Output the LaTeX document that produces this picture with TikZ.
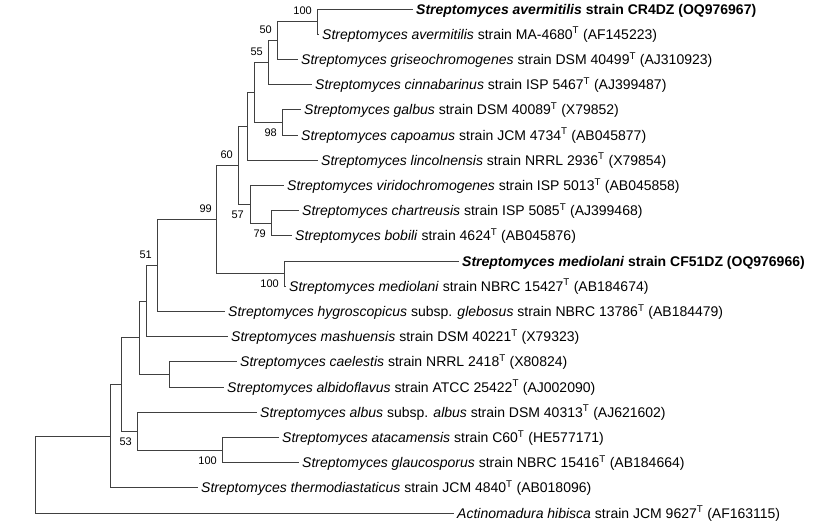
\documentclass[tikz,border=0pt]{standalone}
\usepackage{fontspec}
\setmainfont{Liberation Sans}
\usetikzlibrary{calc}
\begin{document}
\begin{tikzpicture}[x=1pt,y=-1pt,
  branch/.style={draw=black!75, line width=0.9pt},
  leaf/.style={anchor=west, inner xsep=3pt, inner ysep=0pt, text height=10pt, text depth=0pt, font=\fontsize{14}{16}\selectfont},
  bs/.style={anchor=east, inner sep=0pt, font=\fontsize{11}{12}\selectfont}
]
\fill[white] (0,0) rectangle (818,525);
\useasboundingbox (0,0) rectangle (818,525);

% leaves
\node[leaf] (T1)  at (413,9)     {\textbf{\textit{Streptomyces avermitilis} strain CR4DZ (OQ976967)}};
\node[leaf] (T2)  at (319,34.2)  {\textit{Streptomyces avermitilis} strain MA-4680\textsuperscript{T} (AF145223)};
\node[leaf] (T3)  at (298,59.4)  {\textit{Streptomyces griseochromogenes} strain DSM 40499\textsuperscript{T} (AJ310923)};
\node[leaf] (T4)  at (312,84.6)  {\textit{Streptomyces cinnabarinus} strain ISP 5467\textsuperscript{T} (AJ399487)};
\node[leaf] (T5)  at (301,109.8) {\textit{Streptomyces galbus} strain DSM 40089\textsuperscript{T} (X79852)};
\node[leaf] (T6)  at (298,135)   {\textit{Streptomyces capoamus} strain JCM 4734\textsuperscript{T} (AB045877)};
\node[leaf] (T7)  at (318,160.2) {\textit{Streptomyces lincolnensis} strain NRRL 2936\textsuperscript{T} (X79854)};
\node[leaf] (T8)  at (284,185.4) {\textit{Streptomyces viridochromogenes} strain ISP 5013\textsuperscript{T} (AB045858)};
\node[leaf] (T9)  at (299,210.6) {\textit{Streptomyces chartreusis} strain ISP 5085\textsuperscript{T} (AJ399468)};
\node[leaf] (T10) at (292,235.8) {\textit{Streptomyces bobili} strain 4624\textsuperscript{T} (AB045876)};
\node[leaf] (T11) at (459,261)   {\textbf{\textit{Streptomyces mediolani} strain CF51DZ (OQ976966)}};
\node[leaf] (T12) at (286,286.2) {\textit{Streptomyces mediolani} strain NBRC 15427\textsuperscript{T} (AB184674)};
\node[leaf] (T13) at (225,311.4) {\textit{Streptomyces hygroscopicus} subsp. \textit{glebosus} strain NBRC 13786\textsuperscript{T} (AB184479)};
\node[leaf] (T14) at (228,336.6) {\textit{Streptomyces mashuensis} strain DSM 40221\textsuperscript{T} (X79323)};
\node[leaf] (T15) at (237,361.8) {\textit{Streptomyces caelestis} strain NRRL 2418\textsuperscript{T} (X80824)};
\node[leaf] (T16) at (224,387)   {\textit{Streptomyces albidoflavus} strain ATCC 25422\textsuperscript{T} (AJ002090)};
\node[leaf] (T17) at (257,412.2) {\textit{Streptomyces albus} subsp. \textit{albus} strain DSM 40313\textsuperscript{T} (AJ621602)};
\node[leaf] (T18) at (279,437.4) {\textit{Streptomyces atacamensis} strain C60\textsuperscript{T} (HE577171)};
\node[leaf] (T19) at (299,462.6) {\textit{Streptomyces glaucosporus} strain NBRC 15416\textsuperscript{T} (AB184664)};
\node[leaf] (T20) at (198,487.8) {\textit{Streptomyces thermodiastaticus} strain JCM 4840\textsuperscript{T} (AB018096)};
\node[leaf] (T21) at (454,513)   {\textit{Actinomadura hibisca} strain JCM 9627\textsuperscript{T} (AF163115)};

% internal nodes
\coordinate (N1)  at (317,21.6);
\coordinate (N2)  at (277,40.5);
\coordinate (N3)  at (268,62.55);
\coordinate (N4)  at (282,122.4);
\coordinate (N5)  at (254,92.5);
\coordinate (N6)  at (247,126.3);
\coordinate (N7)  at (271,223.2);
\coordinate (N8)  at (250,204.3);
\coordinate (N9)  at (238,165.3);
\coordinate (N10) at (284,273.6);
\coordinate (N11) at (216,219.45);
\coordinate (N12) at (157,265.4);
\coordinate (N13) at (146,301);
\coordinate (N14) at (169,374.4);
\coordinate (N15) at (139,337.7);
\coordinate (N16) at (222,450);
\coordinate (N17) at (137,431.1);
\coordinate (N18) at (121,384.4);
\coordinate (N19) at (110,436.1);
\coordinate (R)   at (35,474.5);

% branches
\draw[branch] (N1) |- (T1.west);  \draw[branch] (N1) |- (T2.west);
\draw[branch] (N2) |- (N1);       \draw[branch] (N2) |- (T3.west);
\draw[branch] (N3) |- (N2);       \draw[branch] (N3) |- (T4.west);
\draw[branch] (N4) |- (T5.west);  \draw[branch] (N4) |- (T6.west);
\draw[branch] (N5) |- (N3);       \draw[branch] (N5) |- (N4);
\draw[branch] (N6) |- (N5);       \draw[branch] (N6) |- (T7.west);
\draw[branch] (N7) |- (T9.west);  \draw[branch] (N7) |- (T10.west);
\draw[branch] (N8) |- (T8.west);  \draw[branch] (N8) |- (N7);
\draw[branch] (N9) |- (N6);       \draw[branch] (N9) |- (N8);
\draw[branch] (N10) |- (T11.west); \draw[branch] (N10) |- (T12.west);
\draw[branch] (N11) |- (N9);      \draw[branch] (N11) |- (N10);
\draw[branch] (N12) |- (N11);     \draw[branch] (N12) |- (T13.west);
\draw[branch] (N13) |- (N12);     \draw[branch] (N13) |- (T14.west);
\draw[branch] (N14) |- (T15.west); \draw[branch] (N14) |- (T16.west);
\draw[branch] (N15) |- (N13);     \draw[branch] (N15) |- (N14);
\draw[branch] (N16) |- (T18.west); \draw[branch] (N16) |- (T19.west);
\draw[branch] (N17) |- (T17.west); \draw[branch] (N17) |- (N16);
\draw[branch] (N18) |- (N15);     \draw[branch] (N18) |- (N17);
\draw[branch] (N19) |- (N18);     \draw[branch] (N19) |- (T20.west);
\draw[branch] (R) |- (N19);       \draw[branch] (R) |- (T21.west);

% bootstrap values
\node[bs] (B1)  at ($(N1)+(-5,-10.5)$)  {100};
\node[bs] (B2)  at ($(N2)+(-5,-10.5)$)  {50};
\node[bs] (B3)  at ($(N3)+(-5,-10.5)$)  {55};
\node[bs] (B4)  at ($(N4)+(-5,10.5)$)   {98};
\node[bs] (B9)  at ($(N9)+(-5,-10.5)$)  {60};
\node[bs] (B8)  at ($(N8)+(-6,10.5)$)   {57};
\node[bs] (B7)  at ($(N7)+(-5,10.5)$)   {79};
\node[bs] (B11) at ($(N11)+(-4,-10.5)$) {99};
\node[bs] (B10) at ($(N10)+(-5,10.5)$)  {100};
\node[bs] (B12) at ($(N12)+(-5,-10.5)$) {51};
\node[bs] (B17) at ($(N17)+(-5,10.5)$)  {53};
\node[bs] (B16) at ($(N16)+(-5,10.5)$)  {100};
\end{tikzpicture}
\end{document}
